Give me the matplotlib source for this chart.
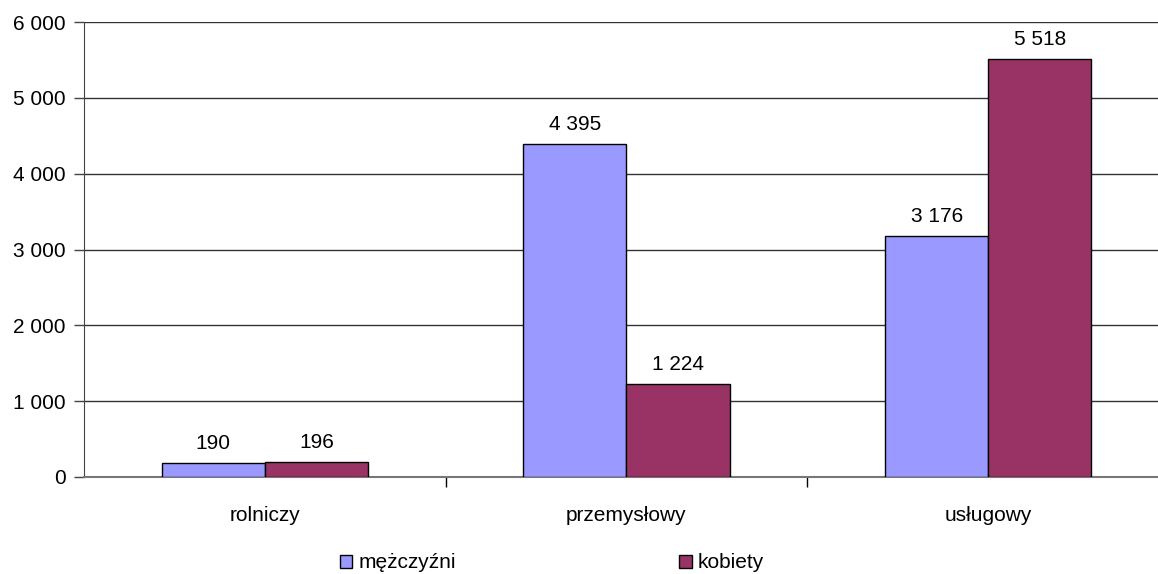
import matplotlib
matplotlib.use("Agg")
import matplotlib.pyplot as plt
from matplotlib.patches import Patch
import numpy as np

plt.rcParams['font.family'] = ['Liberation Sans', 'DejaVu Sans']

categories = ["rolniczy", "przemysłowy", "usługowy"]
series_names = ["mężczyźni", "kobiety"]
men = [190, 4395, 3176]
women = [196, 1224, 5518]
yticks = [0, 1000, 2000, 3000, 4000, 5000, 6000]

def fmt(v):
    return f"{v:,}".replace(",", " ")

W, H = 1158, 574
fig = plt.figure(figsize=(W / 100, H / 100), dpi=100)
left, right, top, bottom = 84, 1169, 22, 477
ax = fig.add_axes([left / W, (H - bottom) / H, (right - left) / W, (bottom - top) / H])

FS = 15
x = np.arange(len(categories))
bw = 0.285
c_men = "#9999FF"
c_women = "#993366"
b1 = ax.bar(x - bw / 2, men, bw, color=c_men, edgecolor="black", linewidth=1, zorder=3)
b2 = ax.bar(x + bw / 2, women, bw, color=c_women, edgecolor="black", linewidth=1, zorder=3)

for bars, vals in ((b1, men), (b2, women)):
    for r, v in zip(bars, vals):
        ax.annotate(fmt(v), (r.get_x() + r.get_width() / 2, v), xytext=(0, 7),
                    textcoords="offset points", ha="center", va="bottom", fontsize=FS)

ax.set_xlim(-0.5, 2.5)
ax.set_ylim(0, 6000)
ax.set_yticks(yticks)
ax.set_yticklabels([fmt(v) for v in yticks], fontsize=FS)
ax.yaxis.grid(True, color="#333333", linewidth=1, zorder=0)
ax.set_axisbelow(True)

ax.set_xticks([0.5, 1.5], minor=False)
ax.set_xticklabels([])
ax.tick_params(axis="x", which="major", direction="out", length=7, width=1, color="black")
ax.set_xticks(x, minor=True)
ax.set_xticklabels(categories, minor=True, fontsize=FS)
ax.tick_params(axis="x", which="minor", length=0, pad=21)
ax.tick_params(axis="y", direction="out", length=7, width=1, color="#444444", pad=6)

for s in ("top", "right"):
    ax.spines[s].set_visible(False)
ax.spines["left"].set_color("#444444")
ax.spines["bottom"].set_color("#777777")
ax.spines["bottom"].set_linewidth(1.5)

handles = [Patch(facecolor=c_men, edgecolor="black", label=series_names[0]),
           Patch(facecolor=c_women, edgecolor="black", label=series_names[1])]
fig.legend(handles=handles, loc="center", bbox_to_anchor=(0.4767, 1 - 563 / H), ncol=2,
           frameon=False, fontsize=FS, handlelength=0.6, handleheight=0.6,
           handletextpad=0.3, columnspacing=10.7)

fig.savefig("out.png", dpi=100)
